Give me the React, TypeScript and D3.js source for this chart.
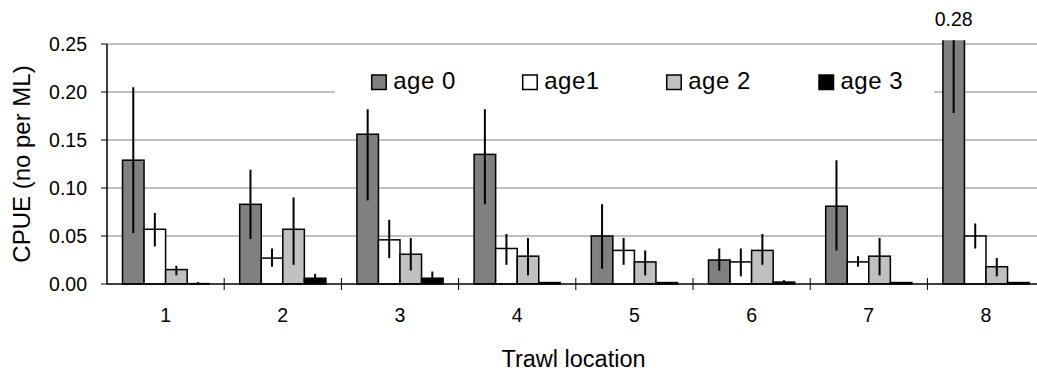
import React from 'react';
import * as d3 from 'd3';

const categories = ['1', '2', '3', '4', '5', '6', '7', '8'];
const seriesNames = ['age 0', 'age1', 'age 2', 'age 3'];
const seriesColors = ['#808080', '#ffffff', '#c0c0c0', '#000000'];

const age0 = [0.129, 0.083, 0.156, 0.135, 0.05, 0.025, 0.081, 0.28];
const age0Low = [0.053, 0.047, 0.087, 0.083, 0.016, 0.014, 0.035, 0.178];
const age0High = [0.205, 0.119, 0.182, 0.182, 0.083, 0.037, 0.129, 0.382];

const age1 = [0.057, 0.027, 0.046, 0.037, 0.035, 0.023, 0.023, 0.05];
const age1Low = [0.039, 0.018, 0.027, 0.02, 0.02, 0.008, 0.018, 0.037];
const age1High = [0.074, 0.037, 0.067, 0.052, 0.048, 0.037, 0.029, 0.063];

const age2 = [0.015, 0.057, 0.031, 0.029, 0.023, 0.035, 0.029, 0.018];
const age2Low = [0.009, 0.02, 0.014, 0.009, 0.009, 0.02, 0.009, 0.008];
const age2High = [0.019, 0.09, 0.048, 0.048, 0.035, 0.052, 0.048, 0.027];

const age3 = [0.0004, 0.006, 0.006, 0.0015, 0.0015, 0.002, 0.0015, 0.0015];
const age3Low = [0, 0.002, 0.0, 0.0015, 0.0015, 0.0, 0.0015, 0.0015];
const age3High = [0.002, 0.0105, 0.013, 0.0015, 0.0015, 0.004, 0.0015, 0.0015];

const yTicks = [0, 0.05, 0.1, 0.15, 0.2, 0.25];
const outlierLabel = '0.28';

const values = [age0, age1, age2, age3];
const lows = [age0Low, age1Low, age2Low, age3Low];
const highs = [age0High, age1High, age2High, age3High];

const FONT = "Arial, 'Liberation Sans', sans-serif";

export default function App() {
  const width = 1037;
  const height = 372;
  const left = 107;
  const step = 117.2;
  const x = d3.scaleBand<string>().domain(categories).range([left, left + step * categories.length]).padding(0);
  const inner = d3.scaleBand<string>().domain(seriesNames).range([15.5, step - 15.5]).padding(0);
  const y = d3.scaleLinear().domain([0, 0.25]).range([284, 44]);
  const clipTop = y(0.254);

  const legendXs = [371.7, 522.7, 666.7, 819];

  return (
    <svg width={width} height={height} style={{ position: 'absolute', left: 0, top: 0 }} fontFamily={FONT}>
      <defs>
        <clipPath id="plotclip">
          <rect x={left} y={clipTop} width={width - left} height={300 - clipTop} />
        </clipPath>
      </defs>
      {/* gridlines */}
      {yTicks.filter((t) => t > 0).map((t) => (
        <line key={t} x1={left} x2={width} y1={y(t)} y2={y(t)} stroke="#808080" strokeWidth={1} />
      ))}
      {/* legend background */}
      <rect x={335} y={62} width={599} height={38} fill="#ffffff" />
      {/* bars */}
      <g clipPath="url(#plotclip)">
        {values.map((vals, si) =>
          vals.map((v, ci) => {
            const bx = (x(categories[ci]) as number) + (inner(seriesNames[si]) as number);
            const bw = inner.bandwidth();
            return (
              <rect
                key={`${si}-${ci}`}
                x={bx}
                y={y(v)}
                width={bw}
                height={y(0) - y(v)}
                fill={seriesColors[si]}
                stroke="#000"
                strokeWidth={1.5}
              />
            );
          })
        )}
        {values.map((vals, si) =>
          vals.map((v, ci) => {
            const cx = (x(categories[ci]) as number) + (inner(seriesNames[si]) as number) + inner.bandwidth() / 2;
            return (
              <line
                key={`e${si}-${ci}`}
                x1={cx}
                x2={cx}
                y1={y(lows[si][ci])}
                y2={y(highs[si][ci])}
                stroke="#000"
                strokeWidth={2}
              />
            );
          })
        )}
      </g>
      {/* axes */}
      <line x1={left} x2={left} y1={y(0.25)} y2={y(0)} stroke="#000" strokeWidth={1.5} />
      <line x1={left} x2={width} y1={y(0)} y2={y(0)} stroke="#000" strokeWidth={1.5} />
      {yTicks.map((t) => (
        <g key={`yt${t}`}>
          <line x1={left - 6} x2={left} y1={y(t)} y2={y(t)} stroke="#000" strokeWidth={1} />
          <text x={87} y={y(t) + 6.7} textAnchor="end" fontSize={19.5} fill="#000">
            {d3.format('.2f')(t)}
          </text>
        </g>
      ))}
      {categories.map((c, i) =>
        i > 0 ? (
          <line key={`xt${c}`} x1={x(c)} x2={x(c)} y1={y(0) - 6} y2={y(0) + 6} stroke="#000" strokeWidth={1} />
        ) : null
      )}
      {categories.map((c) => (
        <text key={`xl${c}`} x={(x(c) as number) + x.bandwidth() / 2} y={322} textAnchor="middle" fontSize={19.5} fill="#000">
          {c}
        </text>
      ))}
      <text x={573.5} y={367} textAnchor="middle" fontSize={23.5} fill="#000">
        Trawl location
      </text>
      <text transform={`translate(30,${y(0.125)}) rotate(-90)`} textAnchor="middle" fontSize={24} fill="#000">
        CPUE (no per ML)
      </text>
      {/* outlier label */}
      <text
        x={(x(categories[7]) as number) + (inner(seriesNames[0]) as number) + inner.bandwidth() / 2}
        y={26}
        textAnchor="middle"
        fontSize={19.5}
        fill="#000"
      >
        {outlierLabel}
      </text>
      {/* legend */}
      {seriesNames.map((s, i) => (
        <g key={`lg${s}`}>
          <rect x={legendXs[i]} y={75} width={14.5} height={14.5} fill={seriesColors[i]} stroke="#000" strokeWidth={1.5} />
          <text x={legendXs[i] + 21.5} y={88.5} fontSize={24} letterSpacing={0.5} fill="#000">
            {s}
          </text>
        </g>
      ))}
    </svg>
  );
}
